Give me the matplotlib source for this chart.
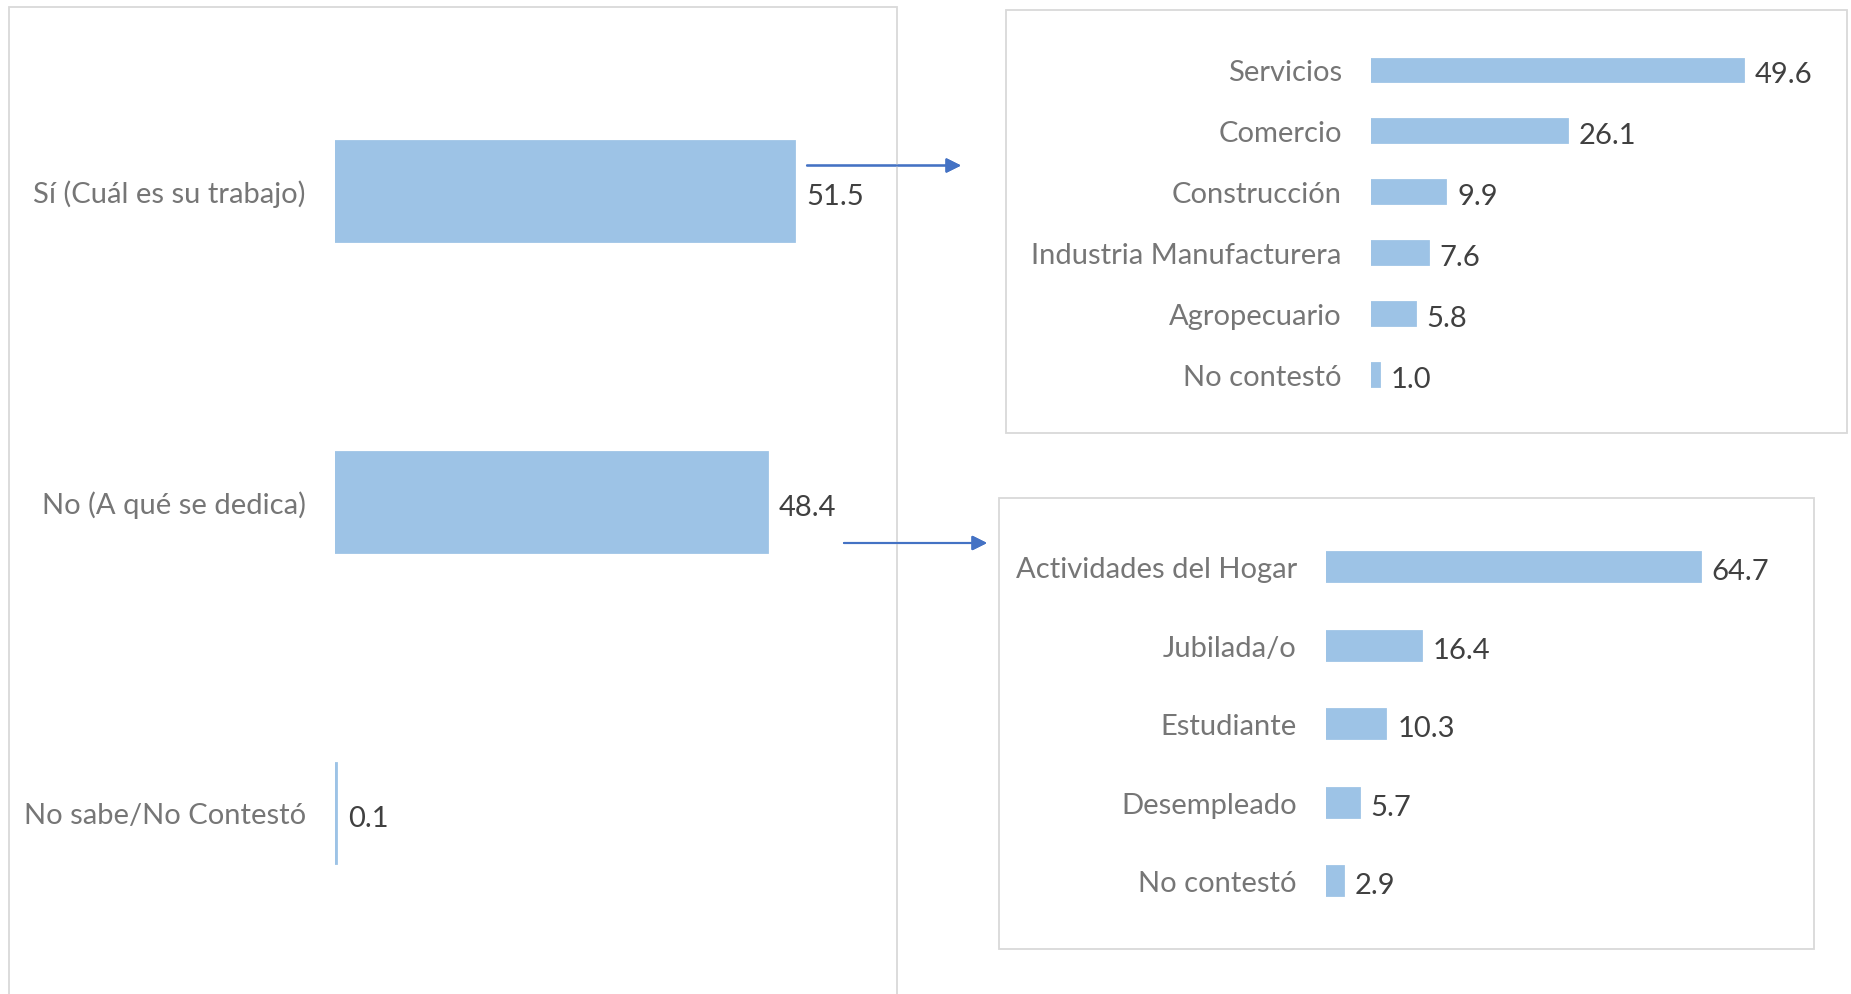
import matplotlib.pyplot as plt
from matplotlib.patches import Rectangle

# Data
main_labels = ["Sí (Cuál es su trabajo)", "No (A qué se dedica)", "No sabe/No Contestó"]
main_values = [51.5, 48.4, 0.1]

work_labels = ["Servicios", "Comercio", "Construcción", "Industria Manufacturera",
               "Agropecuario", "No contestó"]
work_values = [49.6, 26.1, 9.9, 7.6, 5.8, 1.0]

other_labels = ["Actividades del Hogar", "Jubilada/o", "Estudiante", "Desempleado", "No contestó"]
other_values = [64.7, 16.4, 10.3, 5.7, 2.9]

BAR = "#9DC3E6"
LABEL = "#767676"
VALUE = "#404040"
BORDER = "#D9D9D9"
ARROW = "#4472C4"

W, H = 1851, 995
plt.rcParams['font.family'] = ['Lato', 'DejaVu Sans']
fig = plt.figure(figsize=(W / 100, H / 100), dpi=100)


def px_axes(left, top, width, height):
    # pixel box measured from the top-left corner
    return fig.add_axes([left / W, (H - top - height) / H, width / W, height / H])


def border(left, top, right, bottom):
    fig.patches.append(Rectangle((left / W, 1 - bottom / H), (right - left) / W,
                                 (bottom - top) / H, transform=fig.transFigure,
                                 fill=False, edgecolor=BORDER, linewidth=1.3))


def bars(ax, labels, values, xmax, height, fs):
    y = list(range(len(labels)))
    ax.barh(y, values, height=height, color=BAR, edgecolor=BAR, linewidth=2)
    ax.set_xlim(0, xmax)
    ax.set_ylim(len(labels) - 0.5, -0.5)
    ax.set_yticks(y)
    ax.set_yticklabels(labels, fontsize=fs, color=LABEL, va='center_baseline')
    ax.set_xticks([])
    ax.tick_params(axis='y', length=0, pad=21)
    for s in ax.spines.values():
        s.set_visible(False)
    ax.patch.set_alpha(0)
    for yi, v in zip(y, values):
        ax.annotate(f"{v:.1f}", (v, yi), xytext=(8.5, -1.5), textcoords='offset points',
                    va='center_baseline', ha='left', fontsize=fs, color=VALUE)


# panel frames
border(9, 8, 897, 1010)
border(1006, 11, 1847, 434)
border(999, 499, 1814, 950)

ax1 = px_axes(335, 36.5, 535, 933)
bars(ax1, main_labels, main_values, 60, 0.32, 21)

ax2 = px_axes(1371, 40.4, 450, 365.4)
bars(ax2, work_labels, work_values, 60, 0.37, 21)

ax3 = px_axes(1326, 528.5, 462, 392.5)
bars(ax3, other_labels, other_values, 80, 0.375, 21)

# connector arrows
for x0, x1, yy in [(807, 961, 166.5), (844, 987, 544)]:
    fig.add_artist(plt.annotate("", xy=(x1, H - yy), xytext=(x0, H - yy),
                                xycoords='figure pixels', textcoords='figure pixels',
                                arrowprops=dict(arrowstyle='-|>', color=ARROW, lw=1.5,
                                                mutation_scale=22, shrinkA=0, shrinkB=0)))

fig.savefig("out.png", dpi=100, facecolor="white")
